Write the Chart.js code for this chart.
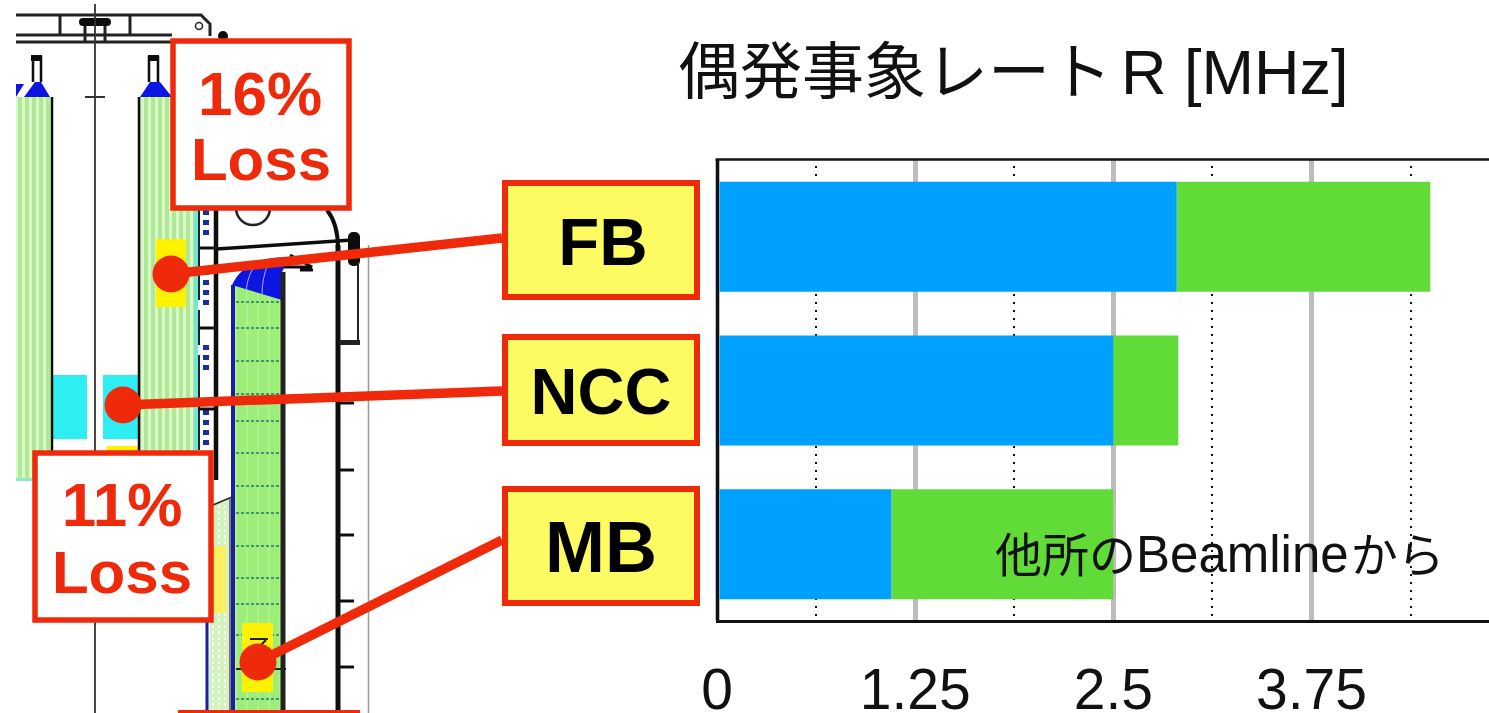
<!DOCTYPE html>
<html lang="ja">
<head>
<meta charset="UTF-8">
<title>偶発事象レート</title>
<script src="https://cdn.jsdelivr.net/npm/chart.js"></script>
<style>
    html, body { margin: 0; padding: 0; background: #ffffff; overflow: hidden; }
    #wrap { position: relative; width: 1489px; height: 713px; overflow: hidden; }
    canvas, svg { position: absolute; left: 0; top: 0; }
    text { font-family: "Liberation Sans", "Noto Sans CJK JP", sans-serif; }
    .loss { fill: #ee2a0b; font-weight: bold; text-anchor: middle; }
    .cat { fill: #000000; font-weight: bold; text-anchor: middle; }
    .box { fill: #ffffff; stroke: #ee2a0b; stroke-width: 5.5; }
    .ybox { fill: #fdfb62; stroke: #ee2a0b; stroke-width: 6; }
    .lead { stroke: #ee2a0b; stroke-width: 9.5; }
</style>
</head>
<body>
<div id="wrap">
    <canvas id="chart" width="1489" height="713"></canvas>
    <svg width="1489" height="713" viewBox="0 0 1489 713">
        <defs>
            <pattern id="stripes" width="7" height="10" patternUnits="userSpaceOnUse">
                <rect width="7" height="10" fill="#aee994"/>
                <rect x="1" width="3" height="10" fill="#dcf8ca"/>
            </pattern>
            <pattern id="stripes2" width="11" height="10" patternUnits="userSpaceOnUse">
                <rect width="11" height="10" fill="#9cee78"/>
                <rect x="4" width="2" height="10" fill="#b0f090"/>
            </pattern>
            <pattern id="dots" width="6" height="6" patternUnits="userSpaceOnUse">
                <rect width="6" height="6" fill="#d4f2c0"/>
                <rect x="2" y="1" width="2" height="3" fill="#f4fbee"/>
            </pattern>
            <filter id="soft"><feGaussianBlur stdDeviation="0.7"/></filter>
            <clipPath id="crop"><rect x="16" y="0" width="400" height="713"/></clipPath>
        </defs>

        <!-- detector drawing -->
        <g clip-path="url(#crop)" filter="url(#soft)">
            <rect x="0" y="97" width="52" height="384" fill="url(#stripes)"/>
            <rect x="139" y="97" width="58" height="360" fill="url(#stripes)"/>
            <rect x="16" y="478" width="36" height="3" fill="#8ee8c0"/>
            <rect x="194" y="200" width="4" height="250" fill="#70e8d8"/>
            <rect x="156" y="239" width="30" height="68" fill="#fff200"/>
            <rect x="52" y="375" width="35" height="64" fill="#2eeef2"/>
            <rect x="103" y="375" width="36" height="64" fill="#2eeef2"/>
            <rect x="107" y="446" width="31" height="10" fill="#fff200"/>

            <path d="M16 97 L24 84 L16 84 Z M24 97 L35 82 L41 82 L50 97 Z M140 97 L150 82 L160 82 L172 97 Z" fill="#0a16e0"/>
            <path d="M33 82 V57 H41 V82 M149 82 V57 H158 V82" fill="none" stroke="#111" stroke-width="2.5"/>
            <rect x="31" y="55" width="11" height="6" fill="#111"/>
            <rect x="148" y="55" width="11" height="6" fill="#111"/>

            <path d="M16 15 H201 L210 24 V36 M16 35 H172 M16 42 H172 M60 15 V35 M130 15 V35" fill="none" stroke="#222" stroke-width="3"/>
            <path d="M85 20 V42 M105 20 V42" fill="none" stroke="#222" stroke-width="3"/>
            <rect x="79" y="18" width="32" height="8" rx="4" fill="#111"/>
            <circle cx="199" cy="26" r="3.5" fill="#fff" stroke="#222" stroke-width="1.5"/>
            <circle cx="223" cy="36" r="5" fill="#111"/>
            <path d="M95 4 V713" stroke="#333" stroke-width="1.8"/>
            <path d="M85 97 H105" stroke="#333" stroke-width="2"/>
            <path d="M52 97 V465" stroke="#111" stroke-width="2.5"/>
            <path d="M139 97 V455" stroke="#111" stroke-width="2.5"/>

            <path d="M199 210 V300 M199 310 V345 M199 355 V450" stroke="#222" stroke-width="2"/>
            <path d="M206 210 V240 M206 270 V305 M206 345 V375 M206 400 V450" stroke="#16309a" stroke-width="6" stroke-dasharray="5 5"/>
            <path d="M216 205 V480" stroke="#111" stroke-width="4.5"/>
            <path d="M200 248 H216 M199 328 H216 M199 409 H216" stroke="#111" stroke-width="3"/>

            <circle cx="253" cy="208" r="17" fill="none" stroke="#222" stroke-width="2.5"/>
            <path d="M327 210 Q338 224 338 248" fill="none" stroke="#111" stroke-width="4"/>
            <path d="M216 249 L352 240" fill="none" stroke="#111" stroke-width="3.5"/>
            <rect x="348" y="232" width="12" height="34" rx="5" fill="#111"/>
            <path d="M358 262 V342" stroke="#222" stroke-width="2"/>
            <path d="M368.5 245 V713" stroke="#999" stroke-width="1.5"/>
            <path d="M338 245 V713" stroke="#111" stroke-width="5"/>
            <rect x="339" y="340" width="21" height="5" fill="#222"/>
            <path d="M338 403 H354 M338 470 H354 M338 535 H354 M338 601 H354 M338 667 H354" stroke="#111" stroke-width="3"/>

            <rect x="234" y="285" width="48" height="428" fill="url(#stripes2)"/>
            <path d="M232 285 C240 268 255 257 290 257 L282 272 V300 Z" fill="#0a16e0"/>
            <path d="M258 262 Q248 272 246 291 M268 264 Q262 278 262 295" fill="none" stroke="#a8b0f4" stroke-width="1"/>
            <path d="M290 255 L312 267 H284 M300 270 H313" fill="none" stroke="#111" stroke-width="3"/>
            <path d="M233 285 V713" stroke="#1a1aa8" stroke-width="4"/>
            <path d="M283 272 V713" stroke="#222" stroke-width="5"/>
            <path d="M236 302 H280 M236 328 H280 M236 361 H280 M236 394 H280 M236 421 H280 M236 453 H280 M236 486 H280 M236 513 H280 M236 546 H280 M236 578 H280 M236 604 H280 M236 635 H280 M236 699 H280" stroke="#227a6a" stroke-width="1.5" stroke-dasharray="3 2"/>

            <path d="M213 505 L230 497 V713 H208 Z" fill="url(#dots)"/>
            <path d="M213 505 L232 497" stroke="#222" stroke-width="1.5"/>
            <rect x="213" y="546" width="13" height="67" fill="#fef060"/>
            <path d="M207 620 V713" stroke="#1a1aa8" stroke-width="3"/>
            <path d="M230 497 V713" stroke="#555" stroke-width="1.5"/>
            <rect x="242" y="623" width="31" height="69" fill="#fff200"/>
            <path d="M250 639 H268 M258 648 L266 640 M236 669 H286" stroke="#222" stroke-width="2"/>
        </g>

        <!-- leader lines -->
        <path class="lead" d="M171 274 L502 238 M123 405 L502 391 M258 662 L502 540"/>
        <circle cx="171" cy="274" r="18.5" fill="#ee2a0b"/>
        <circle cx="123" cy="405" r="18.5" fill="#ee2a0b"/>
        <circle cx="258" cy="662" r="18.5" fill="#ee2a0b"/>

        <!-- loss boxes -->
        <rect class="box" x="173" y="41" width="176" height="167"/>
        <text class="loss" x="260" y="115" font-size="62">16%</text>
        <text class="loss" x="261" y="180" font-size="60">Loss</text>
        <rect class="box" x="35" y="453" width="176" height="167"/>
        <text class="loss" x="122" y="526" font-size="62">11%</text>
        <text class="loss" x="122" y="593" font-size="60">Loss</text>
        <rect x="178" y="710" width="182" height="5" fill="#ee2a0b"/>

        <!-- category boxes -->
        <rect class="ybox" x="505" y="183" width="192" height="114"/>
        <rect class="ybox" x="505" y="337" width="192" height="106"/>
        <rect class="ybox" x="505" y="489" width="192" height="114"/>
        <text class="cat" id="cat0" x="603" y="265" font-size="67"></text>
        <text class="cat" id="cat1" x="601" y="414" font-size="65"></text>
        <text class="cat" id="cat2" x="601" y="572" font-size="72"></text>

        <!-- chart title and note -->
        <text x="678" y="94" font-size="62" fill="#111"><tspan id="title"></tspan><tspan id="unit" dx="9" font-size="63"></tspan></text>
        <text x="995" y="572" fill="#111" font-size="47">他所の<tspan font-size="51">Beamline</tspan><tspan dx="2">から</tspan></text>
    </svg>
</div>

<script>
    const categories = ['FB', 'NCC', 'MB'];
    const blueValues = [2.90, 2.50, 1.10];
    const greenValues = [1.60, 0.41, 1.40];
    const tickLabels = ['0', '', '1.25', '', '2.5', '', '3.75', ''];
    const chartTitle = '偶発事象レート';
    const chartUnit = 'R [MHz]';

    categories.forEach((c, i) => { document.getElementById('cat' + i).textContent = c; });
    document.getElementById('title').textContent = chartTitle;
    document.getElementById('unit').textContent = chartUnit;

    // top edge of the frame, the chart only gives left and bottom
    const topLine = {
        id: 'topLine',
        afterDraw(chart) {
            const a = chart.chartArea, ctx = chart.ctx;
            ctx.save();
            ctx.strokeStyle = '#111111';
            ctx.lineWidth = 2.5;
            ctx.beginPath();
            ctx.moveTo(a.left - 1.5, a.top - 0.5);
            ctx.lineTo(a.right, a.top - 0.5);
            ctx.stroke();
            ctx.restore();
        }
    };

    new Chart(document.getElementById('chart').getContext('2d'), {
        type: 'bar',
        data: {
            labels: categories,
            datasets: [
                { label: 'blue', data: blueValues, backgroundColor: '#00a0ff' },
                { label: 'green', data: greenValues, backgroundColor: '#60db37' }
            ]
        },
        options: {
            indexAxis: 'y',
            responsive: false,
            animation: false,
            barPercentage: 0.716,
            categoryPercentage: 1,
            layout: { padding: { left: 717, top: 160, right: 0, bottom: 0 } },
            plugins: { legend: { display: false }, tooltip: { enabled: false }, title: { display: false } },
            scales: {
                x: {
                    stacked: true,
                    min: 0,
                    max: 4.87,
                    afterFit(scale) { scale.height = 92; },
                    ticks: {
                        stepSize: 0.625,
                        includeBounds: false,
                        autoSkip: false,
                        maxRotation: 0,
                        padding: 38,
                        color: '#111111',
                        font: { family: '"Liberation Sans", sans-serif', size: 57 },
                        callback: (v, i) => tickLabels[i]
                    },
                    grid: {
                        drawTicks: false,
                        tickLength: 0,
                        color: ctx => ctx.index % 2 === 0 ? '#bdbdbd' : '#111111',
                        lineWidth: ctx => ctx.index % 2 === 0 ? 5 : 2
                    },
                    border: {
                        color: '#111111',
                        width: 3,
                        dash: ctx => ctx.index % 2 === 0 ? [] : [2, 6],
                        dashOffset: 2
                    }
                },
                y: {
                    stacked: true,
                    afterFit(scale) { scale.width = 0; },
                    ticks: { display: false },
                    grid: { display: false, drawTicks: false },
                    border: { color: '#111111', width: 3, z: 1 }
                }
            }
        },
        plugins: [topLine]
    });
</script>
</body>
</html>
